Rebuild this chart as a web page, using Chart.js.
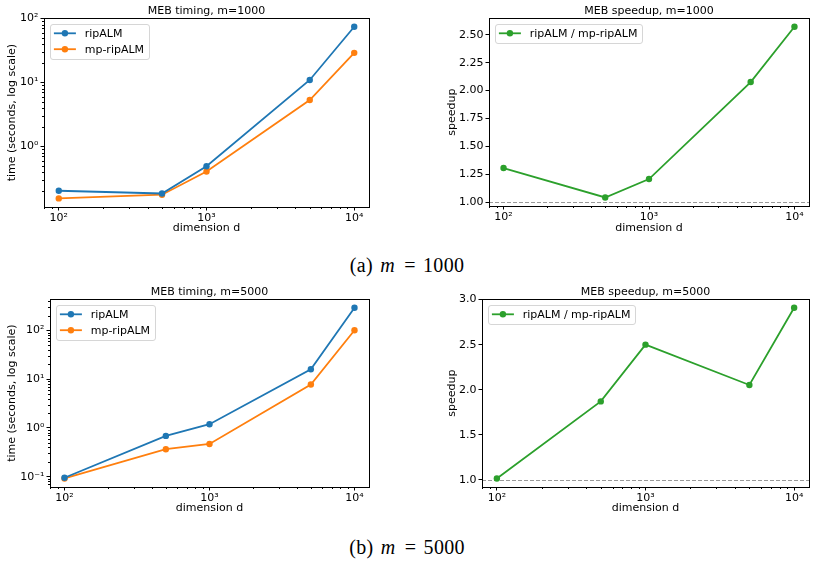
<!DOCTYPE html>
<html><head><meta charset="utf-8">
<script src="https://cdn.jsdelivr.net/npm/chart.js@4.4.1/dist/chart.umd.min.js"></script>
<style>
html,body{margin:0;padding:0;background:#fff;}
body{width:815px;height:562px;position:relative;overflow:hidden;}
canvas{position:absolute;}
.cap{position:absolute;font-family:'Liberation Serif','DejaVu Serif',serif;font-size:20px;color:#000;transform:translate(-50%,-50%);white-space:nowrap;word-spacing:2px;letter-spacing:0.3px;}
</style></head><body>
<canvas id="c1" width="400" height="240" style="left:0px;top:0px"></canvas>
<canvas id="c2" width="375" height="240" style="left:440px;top:0px"></canvas>
<canvas id="c3" width="400" height="240" style="left:0px;top:281px"></canvas>
<canvas id="c4" width="375" height="240" style="left:440px;top:281px"></canvas>
<div class="cap" id="capA" style="left:407px;top:265px"></div>
<div class="cap" id="capB" style="left:407px;top:547px"></div>
<script>
// ---- data ----
const dims = [100, 500, 1000, 5000, 10000];
const time1000Rip = [0.203, 0.184, 0.49, 10.9, 73.8];
const time1000Mp  = [0.154, 0.176, 0.405, 5.3, 28.9];
const speedup1000 = [1.305, 1.041, 1.206, 2.076, 2.572];
const time5000Rip = [0.095, 0.685, 1.19, 15.9, 290];
const time5000Mp  = [0.092, 0.366, 0.469, 7.73, 100];
const speedup5000 = [1.014, 1.87, 2.50, 2.052, 2.91];
const seriesNames = ['ripALM', 'mp-ripALM', 'ripALM / mp-ripALM'];
const chartTitles = ['MEB timing, m=1000', 'MEB speedup, m=1000', 'MEB timing, m=5000', 'MEB speedup, m=5000'];
const xAxisLabel = 'dimension d';
const yLabelTime = 'time (seconds, log scale)';
const yLabelSpeed = 'speedup';
const speedupBaseline = 1.0;

document.getElementById('capA').innerHTML = '(a) <i>m</i>&#8202; = 1000';
document.getElementById('capB').innerHTML = '(b) <i>m</i>&#8202; = 5000';

const C_BLUE = '#1f77b4', C_ORANGE = '#ff7f0e', C_GREEN = '#2ca02c';
const FS = 11;
Chart.defaults.font.family = "'DejaVu Sans', sans-serif";
Chart.defaults.font.size = FS;
Chart.defaults.color = '#000';

const SUP = {'-':'\u207B','0':'\u2070','1':'\u00B9','2':'\u00B2','3':'\u00B3','4':'\u2074','5':'\u2075','6':'\u2076','7':'\u2077','8':'\u2078','9':'\u2079'};
function powLabel(v){ const e = Math.round(Math.log10(v)); return '10' + String(e).split('').map(c=>SUP[c]).join(''); }

function limits(vals, log){
  let lo = Math.min(...vals), hi = Math.max(...vals);
  if (log){ lo = Math.log10(lo); hi = Math.log10(hi); }
  const p = 0.05*(hi-lo);
  lo -= p; hi += p;
  return log ? [Math.pow(10,lo), Math.pow(10,hi)] : [lo, hi];
}
function powTicks(scale){
  const t = [];
  for (let k = Math.ceil(Math.log10(scale.min)-1e-9); k <= Math.floor(Math.log10(scale.max)+1e-9); k++) t.push({value: Math.pow(10,k)});
  scale.ticks = t;
}
function stepTicks(step){
  return scale => {
    const t = [];
    for (let k = Math.ceil(scale.min/step - 1e-9); k*step <= scale.max + 1e-9; k++) t.push({value: +(k*step).toFixed(6)});
    scale.ticks = t;
  };
}
function pts(vals){ return dims.map((d,i)=>({x:d, y:vals[i]})); }

const decor = {
  id: 'mplDecor',
  beforeDatasetsDraw(chart, args, o){
    const ctx = chart.ctx, a = chart.chartArea;
    if (o.baseline != null){
      const y = chart.scales.y.getPixelForValue(o.baseline);
      ctx.save();
      ctx.strokeStyle = 'rgba(128,128,128,0.8)'; ctx.lineWidth = 1; ctx.setLineDash([4,2]);
      ctx.beginPath(); ctx.moveTo(a.left, Math.round(y)+0.5); ctx.lineTo(a.right, Math.round(y)+0.5); ctx.stroke();
      ctx.restore();
    }
  },
  afterDatasetsDraw(chart, args, o){
    const ctx = chart.ctx, a = chart.chartArea;
    ctx.save();
    ctx.strokeStyle = '#000'; ctx.lineWidth = 1;
    const minor = (scale, horiz) => {
      if (scale.type !== 'logarithmic') return;
      for (let k = Math.floor(Math.log10(scale.min)); k <= Math.ceil(Math.log10(scale.max)); k++){
        for (let m = 2; m <= 9; m++){
          const v = m*Math.pow(10,k);
          if (v < scale.min || v > scale.max) continue;
          const p = Math.round(scale.getPixelForValue(v)) + 0.5;
          ctx.beginPath();
          if (horiz){ ctx.moveTo(p, a.bottom); ctx.lineTo(p, a.bottom+2); }
          else { ctx.moveTo(a.left, p); ctx.lineTo(a.left-2, p); }
          ctx.stroke();
        }
      }
    };
    minor(chart.scales.x, true);
    minor(chart.scales.y, false);
    ctx.strokeRect(Math.round(a.left)+0.5, Math.round(a.top)+0.5, Math.round(a.right)-Math.round(a.left), Math.round(a.bottom)-Math.round(a.top));
    const ds = chart.data.datasets;
    ctx.font = FS + "px 'DejaVu Sans'";
    const bp = 0.4*FS, hl = 2*FS, htp = 0.8*FS, ls = 0.5*FS, rowH = 10.4, pad = 0.5*FS;
    const tw = Math.max(...ds.map(d=>ctx.measureText(d.label).width));
    const bx = a.left + pad, by = a.top + pad;
    const bw = 2*bp + hl + htp + tw, bh = 2*bp + ds.length*rowH + (ds.length-1)*ls;
    ctx.beginPath();
    ctx.roundRect(Math.round(bx)+0.5, Math.round(by)+0.5, Math.round(bw), Math.round(bh), 2.5);
    ctx.fillStyle = 'rgba(255,255,255,0.8)'; ctx.fill();
    ctx.strokeStyle = 'rgba(204,204,204,0.8)'; ctx.stroke();
    ds.forEach((d,i)=>{
      const cy = by + bp + rowH/2 + i*(rowH+ls);
      const x0 = bx + bp;
      ctx.strokeStyle = d.borderColor; ctx.lineWidth = d.borderWidth;
      ctx.beginPath(); ctx.moveTo(x0, cy); ctx.lineTo(x0+hl, cy); ctx.stroke();
      ctx.fillStyle = d.borderColor;
      ctx.beginPath(); ctx.arc(x0+hl/2, cy, d.pointRadius, 0, Math.PI*2); ctx.fill();
      ctx.fillStyle = '#000'; ctx.textBaseline = 'middle'; ctx.textAlign = 'left';
      ctx.fillText(d.label, x0+hl+htp, cy+0.5);
    });
    ctx.restore();
  }
};

function ds(label, vals, color){
  return {label, data: pts(vals), borderColor: color, backgroundColor: color, pointBackgroundColor: color,
    pointBorderColor: color, borderWidth: 1.8, pointRadius: 3.2, pointBorderWidth: 0, tension: 0, fill: false};
}

function makeChart(id, c){
  const [xmin, xmax] = limits(dims, true);
  const allY = [].concat(...c.datasets.map(d=>d.data.map(p=>p.y)));
  const [ymin, ymax] = limits(allY, c.yLog);
  const gridOpts = {display:true, drawOnChartArea:false, drawTicks:true, tickLength:3.5, color:'#000', tickColor:'#000', lineWidth:1};
  new Chart(document.getElementById(id), {
    type: 'line',
    data: {datasets: c.datasets},
    options: {
      responsive: false, animation: false, devicePixelRatio: 1, events: [],
      layout: {padding: {left:0, right:c.padRight, top:0, bottom:0}},
      plugins: {
        legend: {display:false}, tooltip: {enabled:false},
        title: {display:true, text:c.title, fullSize:false, padding:{top:5,bottom:0}, color:'#000', font:{size:FS, weight:'normal', lineHeight:1.2}},
        mplDecor: {baseline: c.baseline}
      },
      scales: {
        x: {type:'logarithmic', min:xmin, max:xmax, afterBuildTicks: powTicks,
            afterFit: s => { s.height = c.xHeight; },
            ticks: {callback: v => powLabel(v), padding: 1, maxRotation:0, autoSkip:false, color:'#000'},
            grid: gridOpts, border: {display:false},
            title: {display:true, text:xAxisLabel, color:'#000', font:{size:FS, lineHeight:1.2}, padding:{top:0, bottom:c.xTitlePad}}},
        y: {type: c.yLog ? 'logarithmic' : 'linear', min:ymin, max:ymax,
            afterBuildTicks: c.yLog ? powTicks : stepTicks(c.yStep),
            afterFit: s => { s.width = c.yWidth; },
            ticks: {callback: v => c.yLog ? powLabel(v) : Number(v).toFixed(c.yDec), padding: 2, autoSkip:false, color:'#000'},
            grid: gridOpts, border: {display:false},
            title: {display:true, text:c.yTitle, color:'#000', font:{size:FS, lineHeight:1.2}, padding:{top:6, bottom:0}}}
      }
    },
    plugins: [decor]
  });
}

makeChart('c1', {title: chartTitles[0], yTitle: yLabelTime, yLog: true,
  datasets: [ds(seriesNames[0], time1000Rip, C_BLUE), ds(seriesNames[1], time1000Mp, C_ORANGE)],
  yWidth: 44, padRight: 31, xHeight: 33, xTitlePad: 5});
makeChart('c2', {title: chartTitles[1], yTitle: yLabelSpeed, yLog: false, yStep: 0.25, yDec: 2, baseline: speedupBaseline,
  datasets: [ds(seriesNames[2], speedup1000, C_GREEN)],
  yWidth: 49, padRight: 6, xHeight: 34, xTitlePad: 5});
makeChart('c3', {title: chartTitles[2], yTitle: yLabelTime, yLog: true,
  datasets: [ds(seriesNames[0], time5000Rip, C_BLUE), ds(seriesNames[1], time5000Mp, C_ORANGE)],
  yWidth: 50, padRight: 31, xHeight: 34, xTitlePad: 6});
makeChart('c4', {title: chartTitles[3], yTitle: yLabelSpeed, yLog: false, yStep: 0.5, yDec: 1, baseline: speedupBaseline,
  datasets: [ds(seriesNames[2], speedup5000, C_GREEN)],
  yWidth: 42, padRight: 6, xHeight: 34, xTitlePad: 6});
</script>
</body></html>
